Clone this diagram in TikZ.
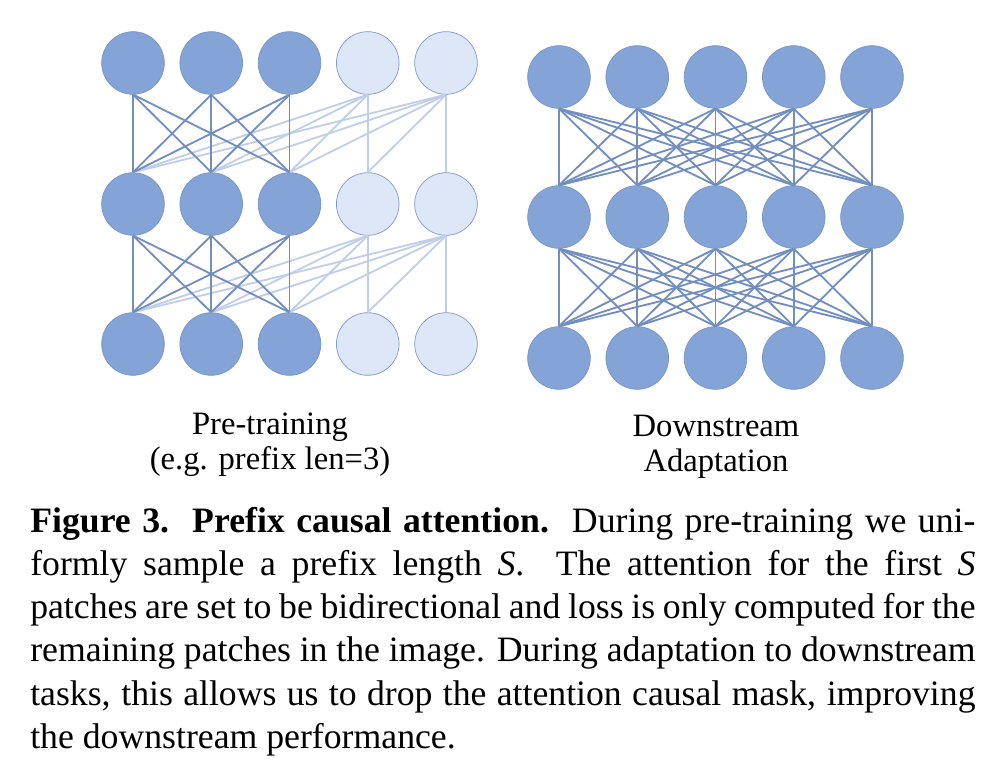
\documentclass[tikz,border=0pt]{standalone}
\usepackage{fontspec}
\setmainfont{Liberation Serif}
\definecolor{tokdark}{RGB}{132,163,214}
\definecolor{tokdarkline}{RGB}{120,148,198}
\definecolor{toklight}{RGB}{221,231,248}
\definecolor{toklightline}{RGB}{125,152,202}
\definecolor{attdark}{RGB}{114,141,192}
\definecolor{attlight}{RGB}{192,206,232}

\begin{document}
\begin{tikzpicture}[x=0.025cm,y=-0.025cm,
  tok/.style={circle,draw=tokdarkline,fill=tokdark,line width=0.5pt,minimum size=1.565cm,inner sep=0pt},
  tokmask/.style={tok,draw=toklightline,fill=toklight},
  att/.style={draw=attdark,line width=1.3pt},
  attmask/.style={draw=attlight,line width=1.3pt},
  lbl/.style={align=center,font=\fontsize{23.2}{25.6}\selectfont,inner sep=0pt}]
\useasboundingbox (0,0) rectangle (1006,780);
% pre-training, prefix of 3 tokens
\foreach \r/\y in {1/63,2/204,3/344}{
  \foreach \c in {1,2,3} \node[tok] (pt_\r_\c) at ({133+78.25*(\c-1)},\y) {};
  \foreach \c in {4,5} \node[tokmask] (pt_\r_\c) at ({133+78.25*(\c-1)},\y) {};
}
\foreach \r/\s in {1/2,2/3}{
  \foreach \a in {4,5} \foreach \b in {1,...,\a} \draw[attmask] (pt_\r_\a.south) -- (pt_\s_\b.north);
  \foreach \a in {1,2,3} \foreach \b in {1,2,3} \draw[att] (pt_\r_\a.south) -- (pt_\s_\b.north);
}
% downstream, full attention
\foreach \r/\y in {1/77,2/217,3/358}
  \foreach \c in {1,...,5} \node[tok] (ds_\r_\c) at ({559+78.25*(\c-1)},\y) {};
\foreach \r/\s in {1/2,2/3}
  \foreach \a in {1,...,5} \foreach \b in {1,...,5} \draw[att] (ds_\r_\a.south) -- (ds_\s_\b.north);
\node[lbl,anchor=base] (pt_lbl) at (270,470) {Pre-training\\(e.g. prefix len=3)};
\node[lbl,anchor=base] (ds_lbl) at (716,472) {Downstream\\Adaptation};
\node[anchor=base west,text width=23.625cm,align=justify,inner sep=0pt,font=\fontsize{25.4}{30.8}\selectfont] (caption) at (30,532) {\hyphenpenalty=10000\tolerance=10000
  \textbf{Figure 3.\ \ Prefix causal attention.}\ \ During pre-training we uni-\linebreak
  formly sample a prefix length \textit{S}.\ \ The attention for the first \textit{S}\linebreak
  patches are set to be bidirectional and loss is only computed for the\linebreak
  remaining patches in the image. During adaptation to downstream\linebreak
  tasks, this allows us to drop the attention causal mask, improving\linebreak
  the downstream performance.};
\end{tikzpicture}
\end{document}
